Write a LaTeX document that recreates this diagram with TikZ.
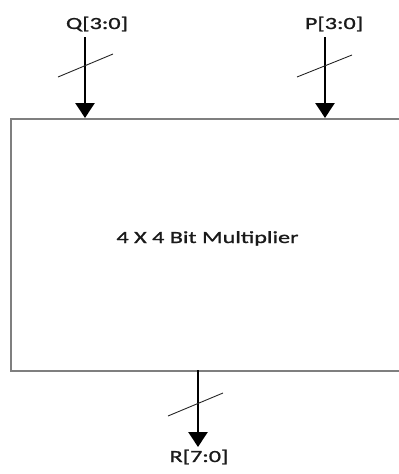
\documentclass[tikz,border=0pt]{standalone}
\usepackage{fontspec}
\setmainfont{Carlito}[FakeStretch=1.42, FakeBold=1.2]
\usetikzlibrary{arrows.meta}
\definecolor{boxgray}{HTML}{7F7F7F}
\definecolor{txt}{HTML}{1A1A1A}
\tikzset{
  blk/.style={draw=boxgray, line width=2.4pt, rectangle, inner sep=0pt},
  bus/.style={line width=2.6pt, -{Triangle[width=19pt,length=15pt]}, black},
  slash/.style={line width=0.9pt, black!85},
  lbl/.style={font=\fontsize{17}{20}\selectfont, text=txt, inner sep=0pt, anchor=base},
}
\begin{document}
\begin{tikzpicture}[x=1pt,y=-1pt]
\useasboundingbox (0,0) rectangle (399,474);
\clip (0,0) rectangle (399,474);
\node[blk, minimum width=402pt, minimum height=252pt, anchor=north west] (box) at (10,118) {};
\node[lbl] (title) at (207.5,243) {4 X 4 Bit Multiplier};
\node[lbl] (qlab) at (97,29) {Q[3:0]};
\node[lbl] (plab) at (334,29) {P[3:0]};
\node[lbl] (rlab) at (199,462) {R[7:0]};
\coordinate (qs) at (85,37);
\coordinate (ps) at (325,37);
\coordinate (rs) at (198,370);
\coordinate (re) at (198,447);
\draw[bus] (qs) -- (qs |- box.north);
\draw[bus] (ps) -- (ps |- box.north);
\draw[bus] (rs) -- (re);
\draw[slash] (58,77) -- (113,54);
\draw[slash] (297,77) -- (352,55);
\draw[slash] (168,416) -- (223,393);
\end{tikzpicture}
\end{document}
